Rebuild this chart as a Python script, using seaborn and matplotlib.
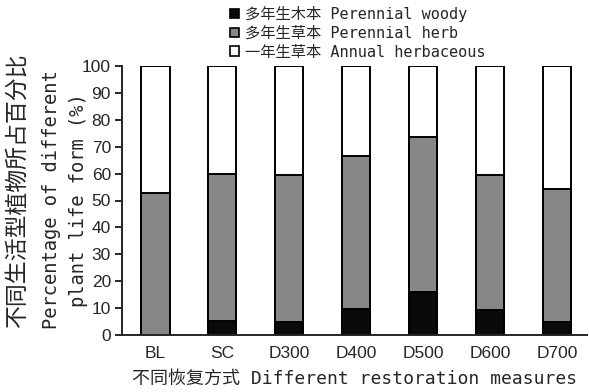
import matplotlib
matplotlib.use("Agg")
import matplotlib.pyplot as plt
import seaborn as sns
import numpy as np
from matplotlib.patches import Patch

# --------------------------------------------------
# Data
# --------------------------------------------------
sites = ["BL", "SC", "D300", "D400", "D500", "D600", "D700"]
woody = [0.0, 5.2, 4.8, 9.7, 16.0, 9.3, 5.0]
herb = [52.8, 54.8, 54.7, 56.8, 57.5, 50.2, 49.2]
annual = [100 - w - h for w, h in zip(woody, herb)]

legend_labels = [
    "多年生木本 Perennial woody",
    "多年生草本 Perennial herb",
    "一年生草本 Annual herbaceous",
]
y_ticks = list(range(0, 101, 10))

mixed = ["DejaVu Sans Mono", "Noto Sans CJK SC"]
cjk = ["Noto Sans CJK SC", "DejaVu Sans"]

sns.set_style("ticks")
plt.rcParams["font.family"] = ["Liberation Sans", "DejaVu Sans"]

fig = plt.figure(figsize=(5.89, 3.92), dpi=100)
ax = fig.add_axes([122 / 589, 57 / 392, 465 / 589, 269 / 392])

top_total = [w + h + a for w, h, a in zip(woody, herb, annual)]
woody_herb = [w + h for w, h in zip(woody, herb)]

edge = dict(edgecolor="black", linewidth=1.4, width=0.42)

sns.barplot(x=sites, y=top_total, color="white", ax=ax, **edge)
sns.barplot(x=sites, y=woody_herb, color="#878787", saturation=1, ax=ax, **edge)
sns.barplot(x=sites, y=woody, color="#0a0a0a", saturation=1, ax=ax, **edge)

ax.set_xlim(-0.5, 6.45)
ax.set_ylim(0, 100)
ax.set_yticks(y_ticks)
ax.tick_params(axis="y", direction="out", length=5, width=1.4, labelsize=12.5, pad=3)
ax.tick_params(axis="x", length=0, labelsize=12.5, pad=8)
sns.despine(ax=ax)
for s in ["left", "bottom"]:
    ax.spines[s].set_linewidth(1.4)

ax.set_xlabel("不同恢复方式 Different restoration measures",
              family=mixed, fontsize=13, labelpad=6)
ax.set_ylabel("")

# y labels
fig.text(17 / 589, 1 - 190 / 392, "不同生活型植物所占百分比", family=cjk,
         fontsize=16.5, rotation=90, ha="center", va="center")
fig.text(52 / 589, 1 - 200 / 392, "Percentage of different", family=mixed,
         fontsize=13.5, rotation=90, ha="center", va="center")
fig.text(78 / 589, 1 - 200 / 392, "plant life form (%)", family=mixed,
         fontsize=13.5, rotation=90, ha="center", va="center")

handles = [
    Patch(facecolor="#0a0a0a", edgecolor="black", linewidth=1.2),
    Patch(facecolor="#878787", edgecolor="black", linewidth=1.2),
    Patch(facecolor="white", edgecolor="black", linewidth=1.2),
]
fig.legend(handles, legend_labels, loc="upper left",
           bbox_to_anchor=(230 / 589, 1 - 6 / 392), frameon=False,
           prop={"family": mixed, "size": 11},
           handlelength=0.6, handleheight=0.6, handletextpad=0.4,
           labelspacing=0.25, borderaxespad=0, borderpad=0)

fig.savefig("out.png", dpi=100)
